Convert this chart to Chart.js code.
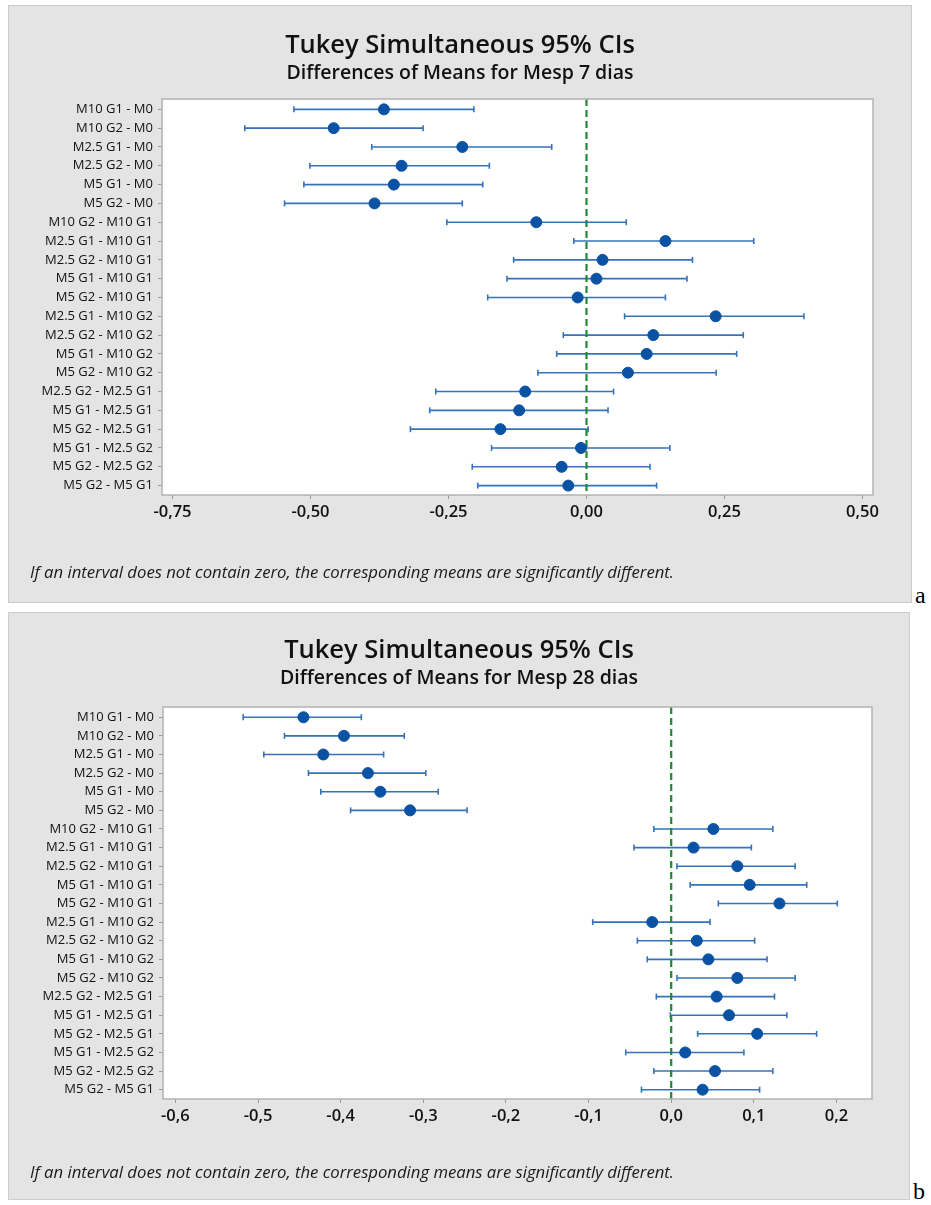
<!DOCTYPE html>
<html>
<head>
<meta charset="utf-8">
<script src="https://cdn.jsdelivr.net/npm/chart.js@4.4.1/dist/chart.umd.min.js"></script>
<style>
  body { margin: 0; background: #ffffff; width: 931px; height: 1205px; position: relative; overflow: hidden; }
  .panel { position: absolute; background: #e4e4e4; border: 1px solid #cdcdcd; box-sizing: border-box; }
  .panel canvas { position: absolute; left: 0; top: 0; }
  .note { position: absolute; font-family: "Open Sans", sans-serif; font-style: italic; font-size: 16.7px; color: #1a1a1a; white-space: nowrap; line-height: 22px; }
  .tag { position: absolute; font-family: "Liberation Serif", serif; font-size: 24px; color: #000; }
</style>
</head>
<body>

<div class="panel" id="panelA" style="left:8px; top:5px; width:904px; height:598px;">
  <canvas id="chartA"></canvas>
  <div class="note" style="left:21px; top:555px;">If an interval does not contain zero, the corresponding means are significantly different.</div>
</div>
<div class="tag" style="left:915px; top:582px;">a</div>

<div class="panel" id="panelB" style="left:8px; top:612px; width:902px; height:588px;">
  <canvas id="chartB"></canvas>
  <div class="note" style="left:21px; top:548px;">If an interval does not contain zero, the corresponding means are significantly different.</div>
</div>
<div class="tag" style="left:913px; top:1178px;">b</div>

<script>
// comparisons (same order in both panels)
const rowLabels = [
    "M10 G1 - M0", "M10 G2 - M0", "M2.5 G1 - M0", "M2.5 G2 - M0", "M5 G1 - M0", "M5 G2 - M0",
    "M10 G2 - M10 G1", "M2.5 G1 - M10 G1", "M2.5 G2 - M10 G1", "M5 G1 - M10 G1", "M5 G2 - M10 G1",
    "M2.5 G1 - M10 G2", "M2.5 G2 - M10 G2", "M5 G1 - M10 G2", "M5 G2 - M10 G2",
    "M2.5 G2 - M2.5 G1", "M5 G1 - M2.5 G1", "M5 G2 - M2.5 G1",
    "M5 G1 - M2.5 G2", "M5 G2 - M2.5 G2", "M5 G2 - M5 G1"
];

// a) Mesp 7 dias
const meanA  = [-0.367, -0.458, -0.225, -0.335, -0.349, -0.384, -0.091, 0.143, 0.029, 0.018, -0.016, 0.234, 0.121, 0.109, 0.075, -0.111, -0.122, -0.156, -0.010, -0.045, -0.033];
const lowerA = [-0.530, -0.619, -0.389, -0.501, -0.512, -0.547, -0.253, -0.023, -0.132, -0.144, -0.179, 0.069, -0.042, -0.054, -0.088, -0.273, -0.284, -0.319, -0.172, -0.207, -0.197];
const upperA = [-0.204, -0.296, -0.063, -0.176, -0.188, -0.225, 0.072, 0.303, 0.192, 0.182, 0.143, 0.394, 0.284, 0.272, 0.235, 0.049, 0.039, 0.003, 0.151, 0.115, 0.127];
const xTicksA = [-0.75, -0.5, -0.25, 0, 0.25, 0.5];
const xTickLabelsA = ["-0,75", "-0,50", "-0,25", "0,00", "0,25", "0,50"];

// b) Mesp 28 dias
const meanB  = [-0.445, -0.396, -0.421, -0.367, -0.352, -0.316, 0.051, 0.027, 0.080, 0.095, 0.131, -0.023, 0.031, 0.045, 0.080, 0.055, 0.070, 0.104, 0.017, 0.053, 0.038];
const lowerB = [-0.518, -0.468, -0.493, -0.439, -0.424, -0.388, -0.021, -0.045, 0.007, 0.023, 0.057, -0.095, -0.041, -0.029, 0.007, -0.018, -0.001, 0.032, -0.055, -0.021, -0.036];
const upperB = [-0.375, -0.323, -0.348, -0.297, -0.282, -0.247, 0.123, 0.097, 0.150, 0.164, 0.201, 0.047, 0.101, 0.116, 0.150, 0.125, 0.140, 0.176, 0.088, 0.123, 0.107];
const xTicksB = [-0.6, -0.5, -0.4, -0.3, -0.2, -0.1, 0, 0.1, 0.2];
const xTickLabelsB = ["-0,6", "-0,5", "-0,4", "-0,3", "-0,2", "-0,1", "0,0", "0,1", "0,2"];

const yMin = -0.55;
const yMax = 20.5;

Chart.defaults.font.family = "'Open Sans', sans-serif";
Chart.defaults.color = "#111111";

// frame around the plot area
const frame = {
    id: "frame",
    afterDatasetsDraw(chart) {
        const a = chart.chartArea;
        const ctx = chart.ctx;
        ctx.save();
        ctx.strokeStyle = "#b3b3b3";
        ctx.lineWidth = 1.5;
        ctx.strokeRect(a.left, a.top, a.right - a.left, a.bottom - a.top);
        ctx.restore();
    }
};

// white plot background
const plotBg = {
    id: "plotBg",
    beforeDraw(chart) {
        const a = chart.chartArea;
        chart.ctx.save();
        chart.ctx.fillStyle = "#ffffff";
        chart.ctx.fillRect(a.left, a.top, a.right - a.left, a.bottom - a.top);
        chart.ctx.restore();
    }
};

function makeChart(id, w, h, opt) {
    const canvas = document.getElementById(id);
    canvas.width = w;
    canvas.height = h;
    canvas.style.width = w + "px";
    canvas.style.height = h + "px";

    const intervals = rowLabels.map((lab, i) => ({
        type: "line",
        data: [{ x: opt.lower[i], y: i }, { x: opt.upper[i], y: i }],
        borderColor: "#3572ba",
        borderWidth: 1.6,
        pointStyle: "line",
        rotation: 90,
        pointRadius: 3,
        pointBorderColor: "#3572ba",
        pointBorderWidth: 1.6,
        order: 3
    }));

    const zeroLine = {
        type: "line",
        data: [{ x: 0, y: yMin }, { x: 0, y: yMax }],
        borderColor: "#1d8b36",
        borderWidth: 2.2,
        borderDash: [7, 4],
        pointRadius: 0,
        order: 2
    };

    const means = {
        type: "scatter",
        data: rowLabels.map((lab, i) => ({ x: opt.mean[i], y: i })),
        backgroundColor: "#0a52a3",
        borderColor: "#0a52a3",
        pointRadius: 5.5,
        order: 1
    };

    return new Chart(canvas.getContext("2d"), {
        type: "scatter",
        data: { datasets: [means, zeroLine, ...intervals] },
        plugins: [plotBg, frame],
        options: {
            responsive: false,
            animation: false,
            layout: { padding: { left: 0, right: 0, top: 0, bottom: opt.padBottom } },
            plugins: {
                legend: { display: false },
                tooltip: { enabled: false },
                title: {
                    display: true,
                    text: "Tukey Simultaneous 95% CIs",
                    color: "#111111",
                    font: { size: 25.5, weight: "600" },
                    padding: { top: opt.titleTop, bottom: 0 }
                },
                subtitle: {
                    display: true,
                    text: opt.subtitle,
                    color: "#111111",
                    font: { size: 19.5, weight: "600" },
                    padding: { top: 1, bottom: opt.subBottom }
                }
            },
            scales: {
                x: {
                    type: "linear",
                    min: opt.xRange[0],
                    max: opt.xRange[1],
                    afterBuildTicks(scale) {
                        scale.ticks = opt.xTicks.map(v => ({ value: v }));
                    },
                    afterFit(scale) { scale.height = 30; },
                    ticks: {
                        autoSkip: false,
                        maxRotation: 0,
                        padding: 3,
                        color: "#111111",
                        font: { size: 16.5, weight: "600" },
                        callback: (v, idx) => opt.xTickLabels[idx]
                    },
                    grid: { drawOnChartArea: false, drawTicks: true, tickLength: 4, color: "#9a9a9a" },
                    border: { display: false }
                },
                y: {
                    type: "linear",
                    reverse: true,
                    min: yMin,
                    max: yMax,
                    afterBuildTicks(scale) {
                        scale.ticks = rowLabels.map((lab, i) => ({ value: i }));
                    },
                    afterFit(scale) { scale.width = opt.yWidth; },
                    ticks: {
                        autoSkip: false,
                        padding: 5,
                        color: "#111111",
                        font: { size: 13, weight: "500" },
                        callback: (v, idx) => rowLabels[idx]
                    },
                    grid: { drawOnChartArea: false, drawTicks: true, tickLength: 4, color: "#9a9a9a" },
                    border: { display: false }
                },
                // empty right-hand axis, only reserves the gray margin
                yRight: {
                    type: "linear",
                    position: "right",
                    afterFit(scale) { scale.width = opt.rightGap; },
                    ticks: { display: false },
                    grid: { display: false },
                    border: { display: false }
                }
            }
        }
    });
}

makeChart("chartA", 902, 596, {
    mean: meanA, lower: lowerA, upper: upperA,
    xTicks: xTicksA, xTickLabels: xTickLabelsA, xRange: [-0.769, 0.519],
    subtitle: "Differences of Means for Mesp 7 dias",
    yWidth: 153, rightGap: 38, padBottom: 77,
    titleTop: 24.5, subBottom: 13.5
});

makeChart("chartB", 900, 586, {
    mean: meanB, lower: lowerB, upper: upperB,
    xTicks: xTicksB, xTickLabels: xTickLabelsB, xRange: [-0.615, 0.243],
    subtitle: "Differences of Means for Mesp 28 dias",
    yWidth: 154, rightGap: 37, padBottom: 70,
    titleTop: 22.5, subBottom: 16.5
});
</script>
</body>
</html>
